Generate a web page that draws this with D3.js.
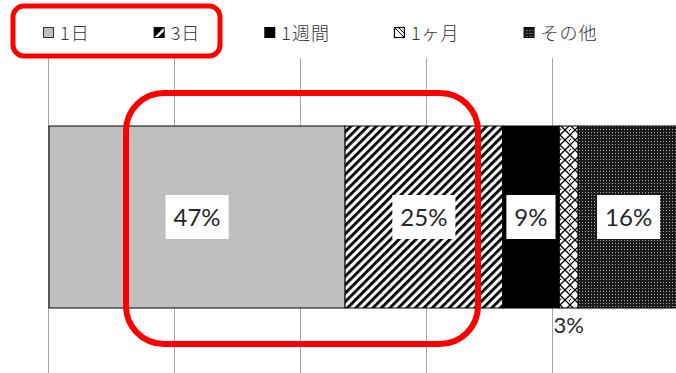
<!DOCTYPE html>
<html>
<head>
<meta charset="utf-8">
<script src="https://cdn.jsdelivr.net/npm/d3@7"></script>
<style>
  html, body { margin: 0; padding: 0; background: #fff; }
  svg { display: block; }
</style>
</head>
<body>
<svg id="chart" width="676" height="373"></svg>
<script>
// Share of responses by period (percent)
const categories = ["1日", "3日", "1週間", "1ヶ月", "その他"];
const values = [47, 25, 9, 3, 16];
const gridTicks = [0, 20, 40, 60, 80, 100];

const W = 676, H = 373;
const svg = d3.select("#chart");
const defs = svg.append("defs");

// Fill patterns for each segment
defs.append("pattern")
  .attr("id", "p-stripe").attr("patternUnits", "userSpaceOnUse")
  .attr("width", 6).attr("height", 6)
  .attr("patternTransform", "rotate(45)")
  .call(p => {
    p.append("rect").attr("width", 6).attr("height", 6).attr("fill", "#fff");
    p.append("rect").attr("width", 2.8).attr("height", 6).attr("fill", "#000");
  });

defs.append("pattern")
  .attr("id", "p-weave").attr("patternUnits", "userSpaceOnUse")
  .attr("width", 10).attr("height", 10)
  .call(p => {
    p.append("rect").attr("width", 10).attr("height", 10).attr("fill", "#fff");
    p.append("path")
      .attr("d", "M0,5 L5,0 M5,10 L10,5 M0,5 L5,10 M5,0 L10,5 M-1,11 L1,9 M9,1 L11,-1")
      .attr("stroke", "#000").attr("stroke-width", 1.3).attr("fill", "none");
  });

defs.append("pattern")
  .attr("id", "p-dots").attr("patternUnits", "userSpaceOnUse")
  .attr("width", 3).attr("height", 3)
  .call(p => {
    p.append("rect").attr("width", 3).attr("height", 3).attr("fill", "#1a1a1a");
    p.append("rect").attr("width", 1).attr("height", 1).attr("fill", "#aaa");
  });

const fills = ["#bfbfbf", "url(#p-stripe)", "#000", "url(#p-weave)", "url(#p-dots)"];

// Horizontal percent scale (extends past the right edge of the view)
const x = d3.scaleLinear().domain([0, 100]).range([49, 679]);
const y = d3.scaleBand().domain(["all"]).range([126, 308]).padding(0);

// Vertical grid lines
svg.append("g").selectAll("line").data(gridTicks).join("line")
  .attr("x1", d => Math.round(x(d)) - 0.5).attr("x2", d => Math.round(x(d)) - 0.5)
  .attr("y1", 58).attr("y2", H)
  .attr("stroke", "#a6a6a6").attr("stroke-width", 1);

// Stacked segments
const stack = [];
let acc = 0;
values.forEach((v, i) => { stack.push({ cat: categories[i], v, x0: acc, x1: acc + v, i }); acc += v; });

svg.append("g").selectAll("rect").data(stack).join("rect")
  .attr("x", d => x(d.x0)).attr("width", d => x(d.x1) - x(d.x0))
  .attr("y", y("all")).attr("height", y.bandwidth())
  .attr("fill", d => fills[d.i])
  .attr("stroke", "#000").attr("stroke-width", 1);

// Value labels
const labelFont = "Lato, 'Open Sans', sans-serif";
const lab = svg.append("g");
stack.forEach(d => {
  const cx = (x(d.x0) + x(d.x1)) / 2;
  if (d.v >= 5) {
    const g = lab.append("g");
    const t = g.append("text")
      .attr("x", cx).attr("y", y("all") + y.bandwidth() / 2 + 9)
      .attr("text-anchor", "middle")
      .attr("font-family", labelFont).attr("font-size", 24)
      .attr("fill", "#262626")
      .text(d.v + "%");
    const w = t.node().getComputedTextLength();
    g.insert("rect", "text")
      .attr("x", cx - w / 2 - 8).attr("width", w + 16)
      .attr("y", y("all") + y.bandwidth() / 2 - 22).attr("height", 44)
      .attr("fill", "#fff");
  } else {
    lab.append("text")
      .attr("x", cx).attr("y", y("all") + y.bandwidth() + 25)
      .attr("text-anchor", "middle")
      .attr("font-family", labelFont).attr("font-size", 22)
      .attr("fill", "#262626")
      .text(d.v + "%");
  }
});

// Legend
const legend = svg.append("g");
const markerDraw = [
  g => g.append("rect").attr("x", 0.5).attr("y", 0.5).attr("width", 10).attr("height", 10)
        .attr("fill", "#bfbfbf").attr("stroke", "#333"),
  g => {
    g.append("rect").attr("x", 0.5).attr("y", 0.5).attr("width", 10).attr("height", 10)
      .attr("fill", "#fff").attr("stroke", "#000");
    g.append("path").attr("d", "M0.5,0.5 L10.5,0.5 L0.5,10.5 Z M10.5,4 L10.5,10.5 L4,10.5 Z").attr("fill", "#000");
  },
  g => g.append("rect").attr("x", 0).attr("y", 0).attr("width", 11).attr("height", 11).attr("fill", "#000"),
  g => {
    g.append("rect").attr("x", 0.5).attr("y", 0.5).attr("width", 10).attr("height", 10)
      .attr("fill", "#fff").attr("stroke", "#000").attr("stroke-width", 1.2);
    g.append("path").attr("d", "M1,1 L10,10 M5,1 L10,6").attr("stroke", "#000").attr("stroke-width", 1);
  },
  g => g.append("rect").attr("x", 0.5).attr("y", 0.5).attr("width", 10).attr("height", 10)
        .attr("fill", "url(#p-dots)").attr("stroke", "#000")
];

let lx = 43;
categories.forEach((c, i) => {
  const g = legend.append("g").attr("transform", `translate(${lx},27)`);
  markerDraw[i](g);
  const t = g.append("text")
    .attr("x", 17).attr("y", 12.5)
    .attr("font-family", "'Noto Sans CJK JP', sans-serif")
    .attr("font-weight", 300)
    .attr("font-size", 18).attr("fill", "#333")
    .attr("letter-spacing", 1)
    .text(c);
  lx += 17 + t.node().getComputedTextLength() + 64;
});

// Highlight frames
svg.append("rect")
  .attr("x", 13).attr("y", 6).attr("width", 207).attr("height", 50)
  .attr("rx", 11).attr("fill", "none")
  .attr("stroke", "#f00").attr("stroke-width", 5);

svg.append("rect")
  .attr("x", 126).attr("y", 93).attr("width", 352).attr("height", 251)
  .attr("rx", 38).attr("fill", "none")
  .attr("stroke", "#f00").attr("stroke-width", 6);
</script>
</body>
</html>
